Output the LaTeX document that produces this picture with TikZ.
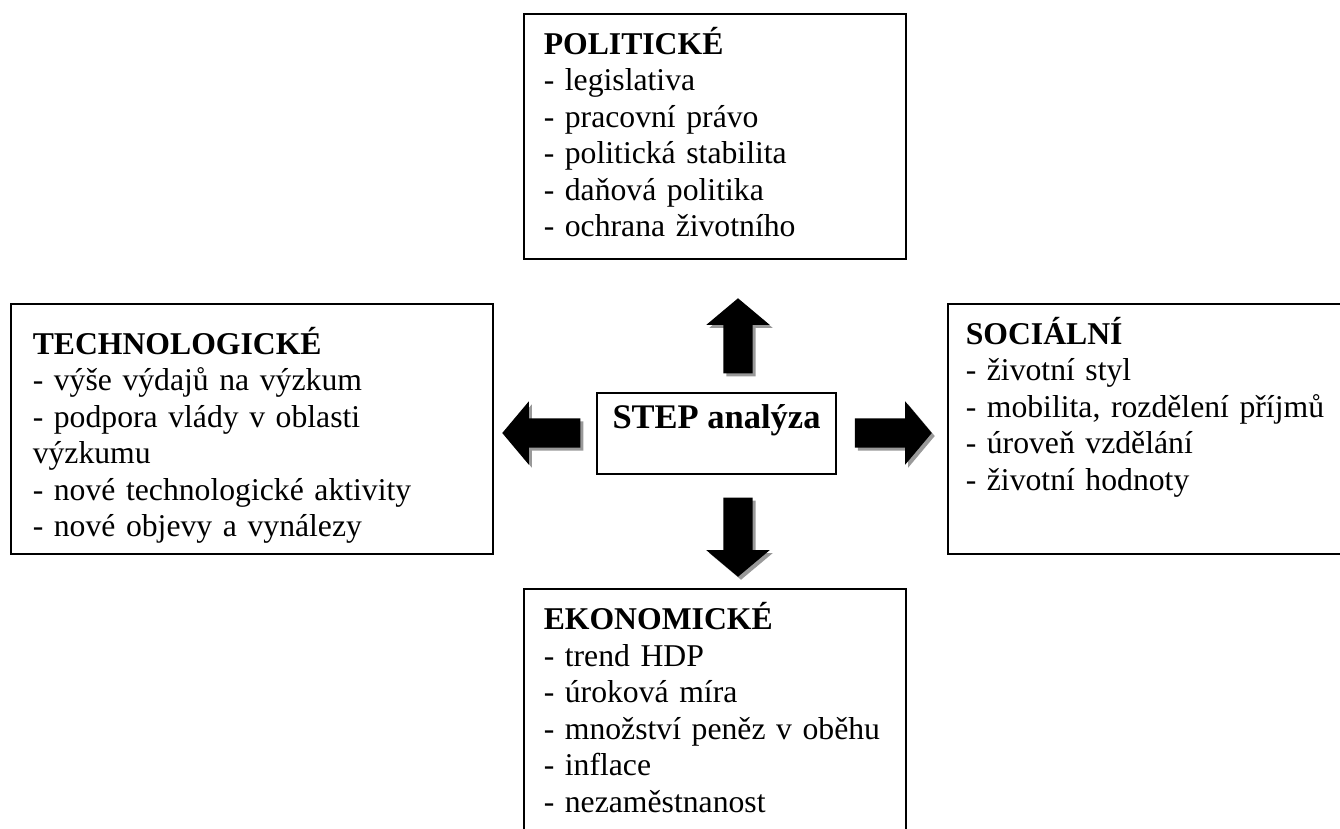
\documentclass[tikz,border=0pt]{standalone}
\usepackage{fontspec}
\setmainfont{Liberation Serif}
\usetikzlibrary{shapes.arrows,shadows}
\tikzset{
    stepbox/.style={draw, line width=1.5pt, anchor=north west, align=left,
        inner xsep=20pt, inner ysep=0pt,
        font=\fontsize{31.7}{36.5}\selectfont},
    steparrow/.style={single arrow, fill=black, inner sep=14.5pt,
        single arrow head extend=17pt, single arrow tip angle=100,
        anchor=tip, drop shadow={shadow xshift=3pt, shadow yshift=-3pt,
        fill=black!40, opacity=1}}
}

\begin{document}
\begin{tikzpicture}[x={(1pt,0)}, y={(0,-1pt)}]
    \useasboundingbox (0,0) rectangle (1340,828);
    \clip (0,0) rectangle (1340,828);

    \node[stepbox, text width=342pt, text height=40.6pt, text depth=204.4pt]
        (polit) at (523,13) {\textbf{POLITICKÉ}\\- legislativa\\- pracovní právo\\
        - politická stabilita\\- daňová politika\\- ochrana životního};
    \node[stepbox, inner xsep=22pt, text width=438pt, text height=50.3pt,
        text depth=199.7pt] (techn) at (10,303)
        {\textbf{TECHNOLOGICKÉ}\\- výše výdajů na výzkum\\- podpora vlády v oblasti\\
        výzkumu\\- nové technologické aktivity\\- nové objevy a vynálezy};
    \node[stepbox, inner xsep=18pt, text width=420pt, text height=40.3pt,
        text depth=209.7pt] (social) at (947,303)
        {\textbf{SOCIÁLNÍ}\\- životní styl\\- mobilita, rozdělení příjmů\\
        - úroveň vzdělání\\- životní hodnoty};
    \node[stepbox, text width=342pt, text height=40.8pt, text depth=300pt]
        (ekonom) at (523,588) {\textbf{EKONOMICKÉ}\\- trend HDP\\- úroková míra\\
        - množství peněz v oběhu\\- inflace\\- nezaměstnanost};

    \node[draw, line width=1.5pt, anchor=north, minimum width=239pt,
        inner ysep=0pt, text height=36pt, text depth=45pt,
        font=\fontsize{34.5}{40}\selectfont\bfseries] (step) at (716.5,392)
        {STEP analýza};

    \node[steparrow, rotate=90, minimum height=75pt] (toPolit) at (738,298) {};
    \node[steparrow, rotate=-90, minimum height=79pt] (toEkonom) at (738,577) {};
    \node[steparrow, rotate=180, minimum height=78pt] (toTechn) at (502,433) {};
    \node[steparrow, minimum height=77pt] (toSocial) at (932,433) {};
\end{tikzpicture}
\end{document}
